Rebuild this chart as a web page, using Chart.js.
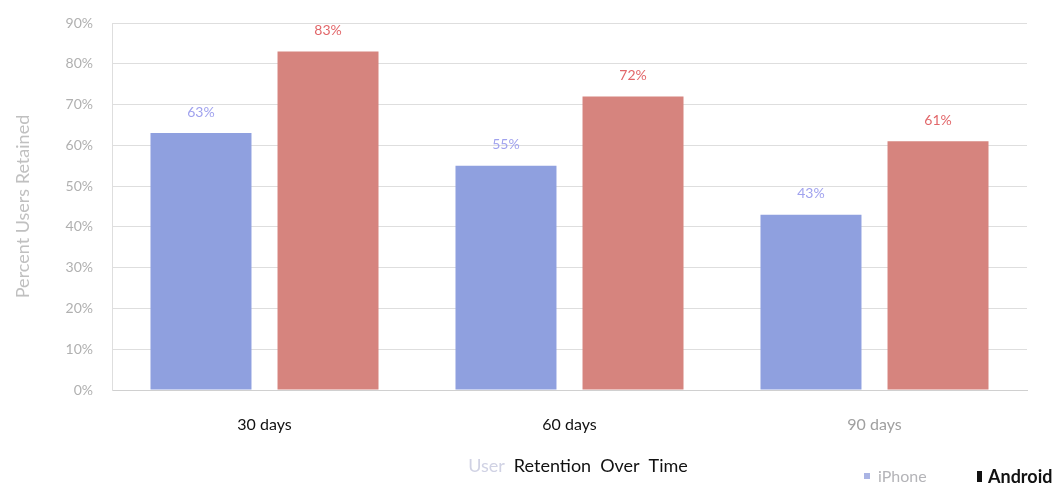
<!DOCTYPE html>
<html>
<head>
<meta charset="utf-8">
<script src="https://cdn.jsdelivr.net/npm/chart.js@4.4.0/dist/chart.umd.min.js"></script>
<style>
  html, body { margin: 0; padding: 0; background: #fff; }
  #wrap { width: 1060px; height: 486px; position: relative; }
</style>
</head>
<body>
<div id="wrap"><canvas id="retentionChart" width="1060" height="486"></canvas></div>
<script>
// chart data
const categories = ['30 days', '60 days', '90 days'];
const iphoneValues = [63, 55, 43];
const androidValues = [83, 72, 61];
const seriesNames = ['iPhone', 'Android'];
const yTicks = [0, 10, 20, 30, 40, 50, 60, 70, 80, 90];

const FONT = 'Lato, "Open Sans", sans-serif';

// labels above each bar
const barLabels = {
    id: 'barLabels',
    afterDatasetsDraw(chart) {
        const ctx = chart.ctx;
        const colors = ['#a0a2ee', '#e2676a'];
        ctx.save();
        ctx.font = '14px ' + FONT;
        ctx.textAlign = 'center';
        ctx.textBaseline = 'middle';
        chart.data.datasets.forEach((ds, i) => {
            const meta = chart.getDatasetMeta(i);
            ctx.fillStyle = colors[i];
            meta.data.forEach((bar, j) => {
                ctx.fillText(ds.data[j] + '%', bar.x, bar.y - 21);
            });
        });
        ctx.restore();
    }
};

// bottom title + legend, drawn by hand to match the odd styling
const bottomText = {
    id: 'bottomText',
    afterDraw(chart) {
        const ctx = chart.ctx;
        ctx.save();
        ctx.textBaseline = 'middle';
        ctx.textAlign = 'left';

        // title: first word is washed out in the source
        ctx.font = '18px ' + FONT;
        const words = ['User', 'Retention', 'Over', 'Time'];
        const gap = 9;
        let total = 0;
        words.forEach(w => { total += ctx.measureText(w).width; });
        total += gap * (words.length - 1);
        let x = 578 - total / 2;
        words.forEach((w, i) => {
            ctx.fillStyle = i === 0 ? '#d0d2e4' : '#111';
            ctx.fillText(w, x, 466);
            x += ctx.measureText(w).width + gap;
        });

        // legend
        ctx.fillStyle = '#aab4e4';
        ctx.fillRect(864, 473, 6, 6);
        ctx.font = '16px ' + FONT;
        ctx.fillStyle = '#b4b4b8';
        ctx.fillText(seriesNames[0], 878, 477);
        ctx.fillStyle = '#111';
        ctx.fillRect(977, 471, 5, 11);
        ctx.font = 'bold 18px ' + FONT;
        ctx.fillText(seriesNames[1], 988, 477);
        ctx.restore();
    }
};

new Chart(document.getElementById('retentionChart').getContext('2d'), {
    type: 'bar',
    data: {
        labels: categories,
        datasets: [{
            label: seriesNames[0],
            data: iphoneValues,
            backgroundColor: '#8fa0df',
            borderWidth: 0,
            categoryPercentage: 0.833,
            barPercentage: 0.795
        }, {
            label: seriesNames[1],
            data: androidValues,
            backgroundColor: '#d6847e',
            borderWidth: 0,
            categoryPercentage: 0.833,
            barPercentage: 0.795
        }]
    },
    options: {
        responsive: false,
        animation: false,
        layout: { padding: { left: 10, right: 33, top: 23, bottom: 0 } },
        plugins: {
            legend: { display: false },
            title: { display: false },
            tooltip: { enabled: false }
        },
        scales: {
            x: {
                grid: { display: false },
                border: { display: true, color: '#d0d0d0' },
                ticks: {
                    padding: 17,
                    color: ['#111', '#111', '#a0a0a0'],
                    font: { family: FONT, size: 16 }
                },
                afterFit(scale) { scale.height = 96; }
            },
            y: {
                min: 0,
                max: 90,
                afterBuildTicks(scale) {
                    scale.ticks = yTicks.map(v => ({ value: v }));
                },
                grid: { color: '#dedede', drawTicks: false },
                border: { display: true, color: '#dedede' },
                ticks: {
                    padding: 19,
                    color: '#b0b0b0',
                    font: { family: FONT, size: 14 },
                    callback: v => v + '%'
                },
                title: {
                    display: true,
                    text: 'Percent Users Retained',
                    color: '#c0c0c0',
                    font: { family: FONT, size: 18 },
                    padding: { top: 2, bottom: 0 }
                },
                afterFit(scale) {
                    scale.width = 102;
                    scale.paddingTop = 0;
                    scale.paddingBottom = 0;
                }
            }
        }
    },
    plugins: [barLabels, bottomText]
});
</script>
</body>
</html>
